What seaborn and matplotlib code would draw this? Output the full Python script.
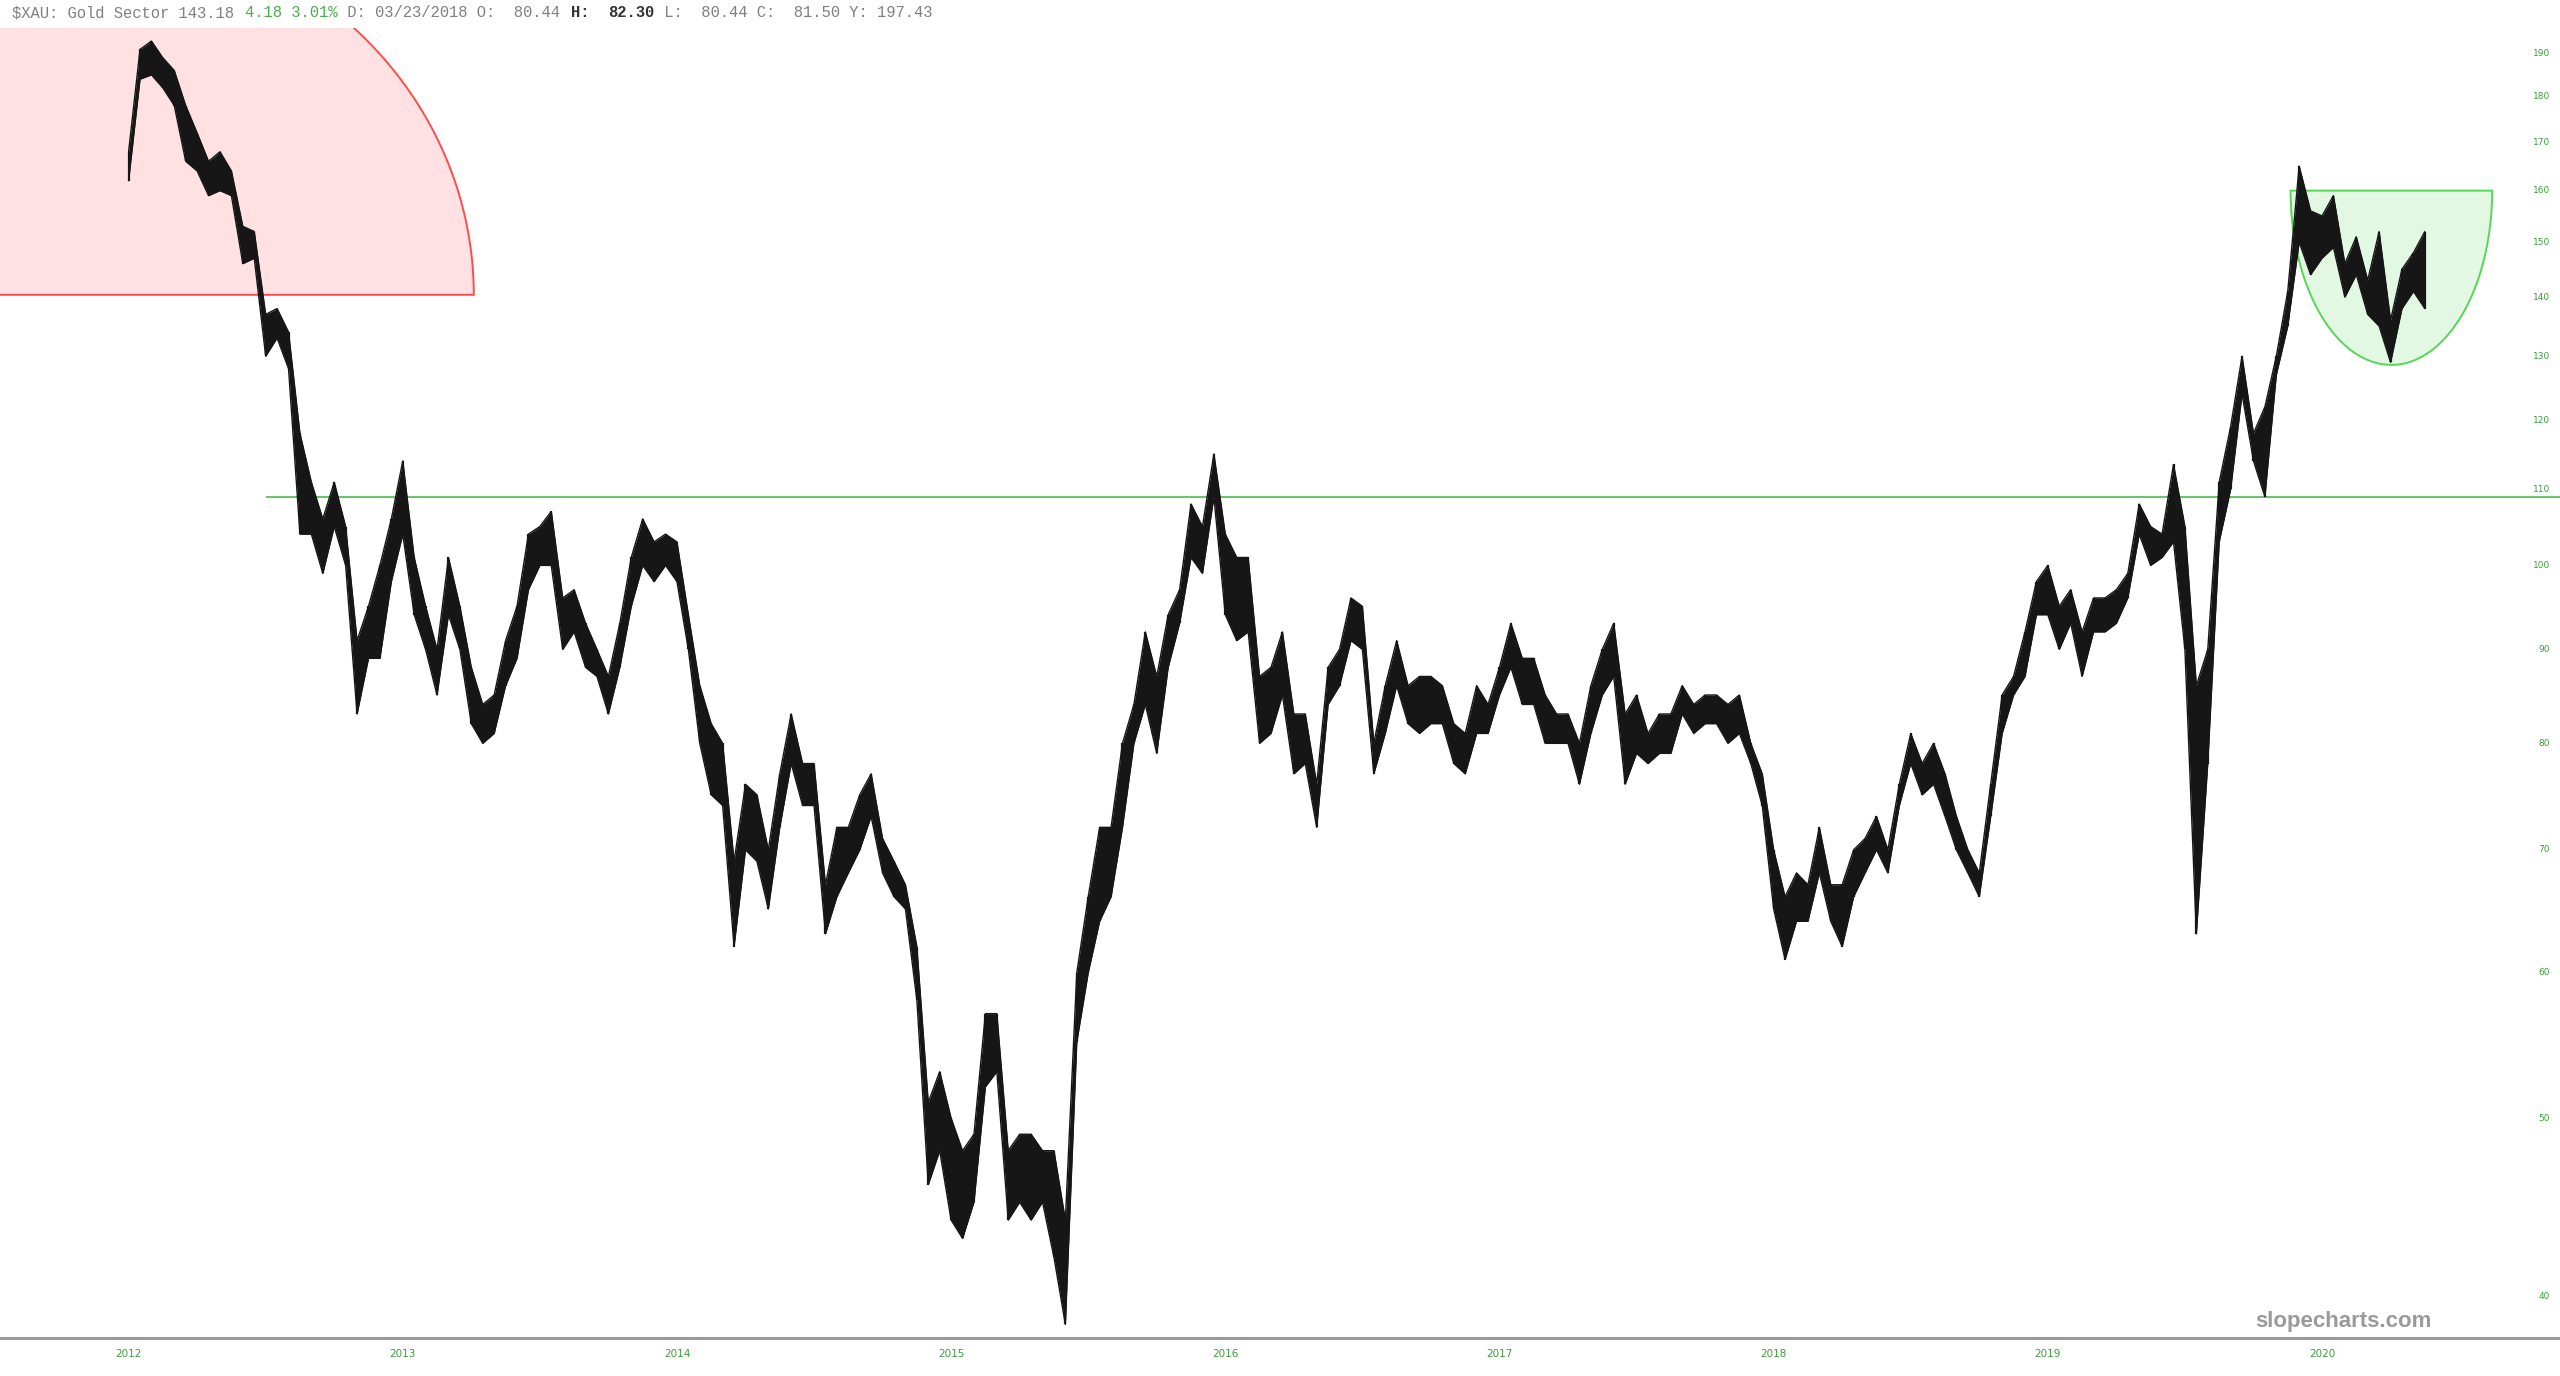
import numpy as np
import pandas as pd
import matplotlib
matplotlib.use("Agg")
import matplotlib.pyplot as plt
import seaborn as sns

# half-month bars of $XAU (first bar = start of 2012)
low = [162, 184, 185, 182, 178, 166, 164, 159, 160, 159,
       146, 147, 130, 133, 128, 104, 104, 99, 105, 100,
       83, 89, 89, 98, 104, 94, 90, 85, 94, 90,
       82, 80, 81, 86, 89, 97, 100, 100, 90, 92,
       88, 87, 83, 88, 95, 100, 98, 100, 98, 90,
       80, 75, 74, 62, 70, 69, 65, 72, 78, 74,
       74, 63, 66, 68, 70, 73, 68, 66, 65, 58,
       46, 48, 44, 43, 45, 52, 53, 44, 45, 44,
       45, 42, 38.6, 55, 60, 64, 66, 72, 80, 84,
       79, 88, 93, 101, 99, 109, 94, 91, 92, 80,
       81, 85, 77, 78, 72, 84, 86, 91, 90, 77,
       81, 86, 82, 81, 82, 82, 78, 77, 81, 81,
       85, 88, 84, 84, 80, 80, 80, 76, 81, 85,
       87, 76, 79, 78, 79, 79, 83, 81, 82, 82,
       80, 81, 78, 74, 65, 61, 64, 64, 68, 64,
       62, 66, 68, 70, 68, 74, 78, 75, 76, 73,
       70, 68, 66, 73, 81, 85, 87, 94, 94, 90,
       93, 87, 92, 92, 93, 96, 104, 100, 101, 103,
       90, 63, 78, 103, 110, 124, 114, 109, 127, 135,
       150, 144, 147, 149, 140, 144, 137, 135, 129, 138,
       141, 138]
high = [168, 191, 193, 189, 186, 178, 172, 166, 168, 164,
        153, 152, 137, 138, 134, 118, 111, 106, 111, 105,
        91, 95, 100, 106, 114, 101, 95, 90, 101, 95,
        88, 84, 85, 91, 95, 104, 105, 107, 96, 97,
        93, 90, 87, 93, 101, 106, 103, 104, 103, 94,
        86, 82, 80, 69, 76, 75, 70, 77, 83, 78,
        78, 67, 72, 72, 75, 77, 71, 69, 67, 62,
        51, 53, 50, 48, 49, 57, 57, 48, 49, 49,
        48, 48, 44, 60, 66, 72, 72, 80, 84, 92,
        87, 94, 97, 108, 105, 115, 104, 101, 101, 87,
        88, 92, 83, 83, 76, 88, 90, 96, 95, 80,
        86, 91, 86, 87, 87, 86, 82, 81, 86, 84,
        88, 93, 89, 89, 85, 83, 83, 80, 86, 90,
        93, 83, 85, 81, 83, 83, 86, 84, 85, 85,
        84, 85, 80, 77, 70, 66, 68, 67, 72, 67,
        67, 70, 71, 73, 70, 76, 81, 78, 80, 77,
        73, 70, 68, 76, 85, 87, 92, 98, 100, 95,
        97, 92, 96, 96, 97, 99, 108, 105, 104, 113.5,
        105, 86, 90, 111, 119, 130, 118, 122, 130, 141,
        165, 156, 155, 159, 146, 151, 143, 152, 136, 145,
        148, 152]

years = [2012, 2013, 2014, 2015, 2016, 2017, 2018, 2019, 2020]
price_ticks = [40, 50, 60, 70, 80, 90, 100, 110, 120, 130, 140, 150, 160, 170, 180, 190]
support_level = 109
support_start = 2012.50

# drawn annotations (centre date, base price, half width in years, log depth)
red_dome = (2011.80, 140.4, 1.459, 0.469)
green_bowl = (2020.253, 160.0, 0.3676, 0.2185)

t = 2012 + np.arange(len(high)) / 24
df = pd.DataFrame({"t": np.r_[t, t], "price": np.r_[high, low],
                   "side": ["high"] * len(t) + ["low"] * len(t)})

sns.set_style("white")
plt.rcParams["font.family"] = ["DejaVu Sans"]

fig = plt.figure(figsize=(25.6, 13.76), dpi=100)
ax = fig.add_axes([0, 38 / 1376, 1, 1310 / 1376])
ax.set_yscale("log")
ax.set_xlim(2011.531, 2020.868)
ax.set_ylim(37.95, 196.2)

theta = np.linspace(0, np.pi, 300)
cx, base, rx, rl = red_dome
ax.fill(cx + rx * np.cos(theta), base * np.exp(rl * np.sin(theta)),
        facecolor="#ffe1e4", edgecolor="#ff4c4c", lw=1.4, zorder=1)
cx, top, rx, rl = green_bowl
ax.fill(cx + rx * np.cos(theta), top * np.exp(-rl * np.sin(theta)),
        facecolor="#e2f8e2", edgecolor="#55d855", lw=1.4, zorder=1)

ax.hlines(support_level, support_start, 2020.868, color="#6cc46c", lw=1.5, zorder=2)

bar_col = "#161616"
ax.fill_between(t, low, high, color=bar_col, lw=0, zorder=3)
ax.vlines(t, low, high, color=bar_col, lw=1.6, zorder=3)
sns.lineplot(data=df, x="t", y="price", hue="side", palette=[bar_col, bar_col],
             legend=False, ax=ax, lw=1.0, zorder=4)

ax.set_xlabel("")
ax.set_ylabel("")
ax.set_xticks(years)
ax.set_xticklabels([str(y) for y in years], fontsize=7.5, color="#3a9e3a")
ax.tick_params(axis="x", length=0, pad=8)
ax.tick_params(axis="y", which="both", left=False, right=False, labelleft=False)
ax.yaxis.set_minor_locator(matplotlib.ticker.NullLocator())
ax.set_yticks([])
for v in price_ticks:
    ax.text(0.9961, v, str(v), transform=ax.get_yaxis_transform(), ha="right",
            va="center", fontsize=6.5, color="#3a9e3a")

sns.despine(ax=ax, left=True)
ax.spines["bottom"].set_color("#9a9a9a")
ax.spines["bottom"].set_linewidth(2.2)

# header line in monospace, coloured pieces
pieces = [("$XAU: Gold Sector 143.18 ", "#808080", "normal"),
          ("4.18 3.01%", "#4cae4c", "normal"),
          (" D: 03/23/2018 O:  80.44 ", "#808080", "normal"),
          ("H:", "#333333", "bold"),
          ("  ", "#808080", "normal"),
          ("82.30", "#333333", "bold"),
          (" L:  80.44 C:  81.50 Y: 197.43", "#808080", "normal")]
n = 0
for txt, col, wt in pieces:
    fig.text((11.5 + n * 9.33) / 2560, 1 - 12.7 / 1376, txt, color=col, fontweight=wt,
             family="Liberation Mono", fontsize=11.2, va="center", ha="left",
             parse_math=False)
    n += len(txt)

fig.text(2343 / 2560, 1 - 1321 / 1376, "slopecharts.com", ha="center", va="center",
         fontsize=16, fontweight="bold", color="#9a9a9a", family="Liberation Sans")

fig.savefig("out.png", dpi=100)
